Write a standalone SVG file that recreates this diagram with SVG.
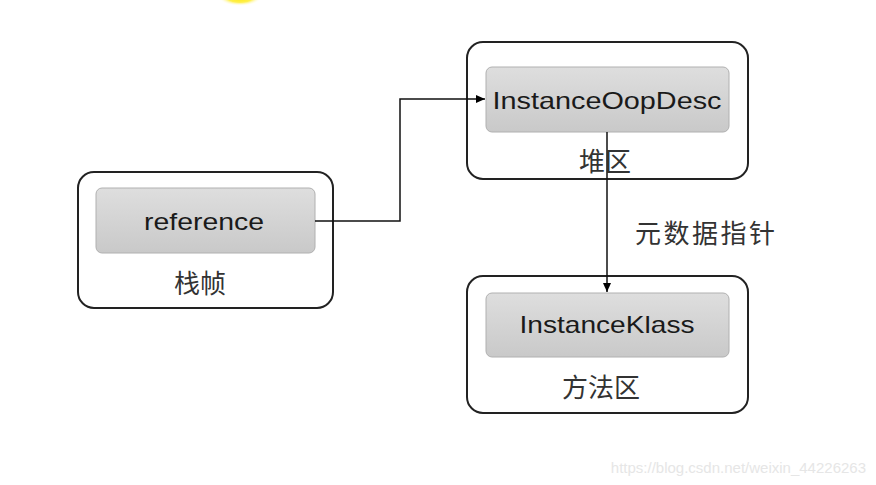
<svg xmlns="http://www.w3.org/2000/svg" width="876" height="485" viewBox="0 0 876 485">
<defs>
<linearGradient id="g" x1="0" y1="0" x2="0" y2="1">
<stop offset="0" stop-color="#dedede"/>
<stop offset="1" stop-color="#c9c9c9"/>
</linearGradient>
<radialGradient id="y" cx="0.5" cy="0.5" r="0.5">
<stop offset="0" stop-color="#ffe600"/>
<stop offset="0.6" stop-color="#fff04d"/>
<stop offset="1" stop-color="#ffffff" stop-opacity="0"/>
</radialGradient>
<marker id="arr" markerWidth="10" markerHeight="10" refX="9" refY="5" orient="auto" markerUnits="userSpaceOnUse">
<path d="M0,1 L9,5 L0,9 Z" fill="#000"/>
</marker>
<style>
.outer{fill:#fff;stroke:#222;stroke-width:2}
.inner{fill:url(#g);stroke:#b0b0b0;stroke-width:1}
.t{font-family:"Liberation Sans",Arial,sans-serif;font-size:24px;fill:#1a1a1a;text-anchor:middle}
.c{font-family:"Noto Sans CJK SC",sans-serif;font-size:26px;fill:#333;text-anchor:middle}
.conn{fill:none;stroke:#111;stroke-width:1.5}
</style>
</defs>
<rect width="876" height="485" fill="#fff"/>
<ellipse cx="240" cy="-3" rx="22" ry="9" fill="url(#y)"/>
<g id="stack">
<rect class="outer" x="78" y="172" width="255" height="136" rx="16"/>
<rect class="inner" x="96" y="188" width="219" height="65" rx="6"/>
<text class="t" x="204" y="230" textLength="120" lengthAdjust="spacingAndGlyphs">reference</text>
<text class="c" x="200" y="293">栈帧</text>
</g>
<g id="heap">
<rect class="outer" x="467" y="42" width="281" height="137" rx="16"/>
<rect class="inner" x="486" y="67" width="243" height="65" rx="6"/>
<text class="t" x="607" y="109" textLength="229" lengthAdjust="spacingAndGlyphs">InstanceOopDesc</text>
<text class="c" x="605" y="171">堆区</text>
</g>
<g id="method">
<rect class="outer" x="467" y="276" width="281" height="137" rx="16"/>
<rect class="inner" x="486" y="293" width="243" height="64" rx="6"/>
<text class="t" x="607" y="333" textLength="175" lengthAdjust="spacingAndGlyphs">InstanceKlass</text>
<text class="c" x="601" y="397">方法区</text>
</g>
<g id="connectors">
<polyline class="conn" points="315,221 400,221 400,99 485,99" marker-end="url(#arr)"/>
<line class="conn" x1="607" y1="132" x2="607" y2="292" marker-end="url(#arr)"/>
<text class="c" x="705" y="243" textLength="140">元数据指针</text>
</g>
<text x="866" y="473" font-family="&quot;Liberation Sans&quot;,Arial,sans-serif" font-size="15" fill="#e6e6e6" text-anchor="end">https://blog.csdn.net/weixin_44226263</text>
</svg>
